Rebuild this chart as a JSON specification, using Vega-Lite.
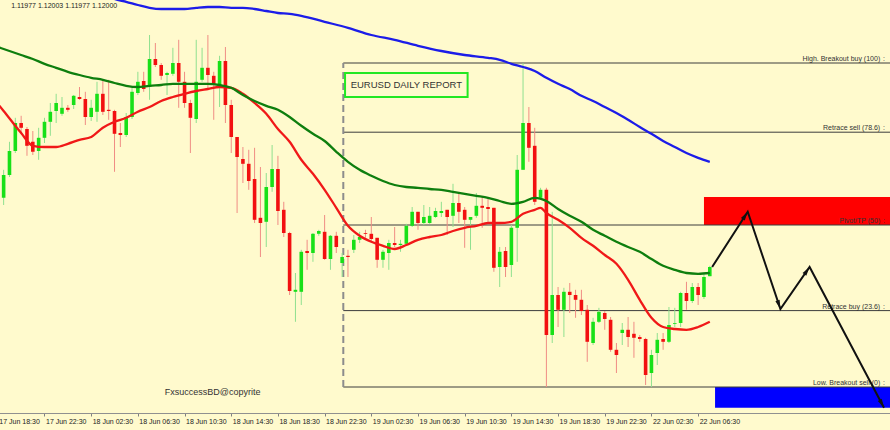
{
  "$schema": "https://vega.github.io/schema/vega-lite/v6.json",
  "width": 890,
  "height": 413,
  "padding": {"left": 0, "top": 0, "right": 0, "bottom": 17},
  "autosize": {"type": "none"},
  "background": "#FFFACD",
  "config": {"view": {"stroke": null}, "font": "Liberation Sans"},
  "resolve": {"scale": {"color": "independent"}},
  "datasets": {
    "candles": [
      {"i":1,"o":1.12173,"h":1.12243,"l":1.12155,"c":1.12230},
      {"i":2,"o":1.12230,"h":1.12313,"l":1.12225,"c":1.12290},
      {"i":3,"o":1.12290,"h":1.12373,"l":1.12285,"c":1.12360},
      {"i":4,"o":1.12360,"h":1.12378,"l":1.12335,"c":1.12348},
      {"i":5,"o":1.12345,"h":1.12350,"l":1.12278,"c":1.12303},
      {"i":6,"o":1.12313,"h":1.12340,"l":1.12280,"c":1.12288},
      {"i":7,"o":1.12290,"h":1.12348,"l":1.12268,"c":1.12323},
      {"i":8,"o":1.12323,"h":1.12373,"l":1.12310,"c":1.12363},
      {"i":9,"o":1.12363,"h":1.12410,"l":1.12328,"c":1.12388},
      {"i":10,"o":1.12390,"h":1.12433,"l":1.12360,"c":1.12410},
      {"i":11,"o":1.12383,"h":1.12425,"l":1.12378,"c":1.12398},
      {"i":12,"o":1.12398,"h":1.12405,"l":1.12388,"c":1.12393},
      {"i":13,"o":1.12405,"h":1.12430,"l":1.12395,"c":1.12428},
      {"i":14,"o":1.12425,"h":1.12450,"l":1.12418,"c":1.12420},
      {"i":15,"o":1.12420,"h":1.12438,"l":1.12355,"c":1.12375},
      {"i":16,"o":1.12375,"h":1.12418,"l":1.12365,"c":1.12398},
      {"i":17,"o":1.12388,"h":1.12463,"l":1.12363,"c":1.12433},
      {"i":18,"o":1.12433,"h":1.12468,"l":1.12380,"c":1.12388},
      {"i":19,"o":1.12393,"h":1.12468,"l":1.12368,"c":1.12390},
      {"i":20,"o":1.12390,"h":1.12393,"l":1.12238,"c":1.12333},
      {"i":21,"o":1.12335,"h":1.12360,"l":1.12300,"c":1.12330},
      {"i":22,"o":1.12330,"h":1.12385,"l":1.12325,"c":1.12375},
      {"i":23,"o":1.12375,"h":1.12450,"l":1.12370,"c":1.12438},
      {"i":24,"o":1.12435,"h":1.12488,"l":1.12430,"c":1.12463},
      {"i":25,"o":1.12465,"h":1.12488,"l":1.12438,"c":1.12445},
      {"i":26,"o":1.12450,"h":1.12580,"l":1.12418,"c":1.12520},
      {"i":27,"o":1.12520,"h":1.12560,"l":1.12500,"c":1.12505},
      {"i":28,"o":1.12505,"h":1.12510,"l":1.12468,"c":1.12478},
      {"i":29,"o":1.12480,"h":1.12488,"l":1.12430,"c":1.12485},
      {"i":30,"o":1.12483,"h":1.12548,"l":1.12478,"c":1.12510},
      {"i":31,"o":1.12510,"h":1.12568,"l":1.12398,"c":1.12463},
      {"i":32,"o":1.12463,"h":1.12488,"l":1.12398,"c":1.12410},
      {"i":33,"o":1.12410,"h":1.12418,"l":1.12285,"c":1.12373},
      {"i":34,"o":1.12370,"h":1.12568,"l":1.12360,"c":1.12463},
      {"i":35,"o":1.12468,"h":1.12548,"l":1.12463,"c":1.12498},
      {"i":36,"o":1.12498,"h":1.12580,"l":1.12443,"c":1.12480},
      {"i":37,"o":1.12478,"h":1.12488,"l":1.12368,"c":1.12455},
      {"i":38,"o":1.12455,"h":1.12528,"l":1.12400,"c":1.12515},
      {"i":39,"o":1.12515,"h":1.12550,"l":1.12360,"c":1.12405},
      {"i":40,"o":1.12405,"h":1.12418,"l":1.12285,"c":1.12325},
      {"i":41,"o":1.12325,"h":1.12325,"l":1.12135,"c":1.12275},
      {"i":42,"o":1.12270,"h":1.12300,"l":1.12210,"c":1.12258},
      {"i":43,"o":1.12258,"h":1.12293,"l":1.12193,"c":1.12215},
      {"i":44,"o":1.12220,"h":1.12298,"l":1.12110,"c":1.12118},
      {"i":45,"o":1.12123,"h":1.12250,"l":1.12025,"c":1.12110},
      {"i":46,"o":1.12113,"h":1.12235,"l":1.12050,"c":1.12200},
      {"i":47,"o":1.12200,"h":1.12305,"l":1.12188,"c":1.12245},
      {"i":48,"o":1.12245,"h":1.12278,"l":1.12105,"c":1.12140},
      {"i":49,"o":1.12143,"h":1.12163,"l":1.12075,"c":1.12085},
      {"i":50,"o":1.12085,"h":1.12088,"l":1.11930,"c":1.11940},
      {"i":51,"o":1.11938,"h":1.11985,"l":1.11863,"c":1.11943},
      {"i":52,"o":1.11938,"h":1.12043,"l":1.11905,"c":1.12038},
      {"i":53,"o":1.12040,"h":1.12068,"l":1.11993,"c":1.12035},
      {"i":54,"o":1.12035,"h":1.12085,"l":1.12013,"c":1.12083},
      {"i":55,"o":1.12083,"h":1.12093,"l":1.12078,"c":1.12090},
      {"i":56,"o":1.12088,"h":1.12130,"l":1.12018,"c":1.12020},
      {"i":57,"o":1.12020,"h":1.12080,"l":1.11993,"c":1.12078},
      {"i":58,"o":1.12078,"h":1.12088,"l":1.12035,"c":1.12050},
      {"i":59,"o":1.12010,"h":1.12035,"l":1.11975,"c":1.12025},
      {"i":60,"o":1.12028,"h":1.12043,"l":1.11975,"c":1.12025},
      {"i":61,"o":1.12043,"h":1.12080,"l":1.12035,"c":1.12068},
      {"i":62,"o":1.12068,"h":1.12088,"l":1.12060,"c":1.12075},
      {"i":63,"o":1.12085,"h":1.12093,"l":1.12073,"c":1.12083},
      {"i":64,"o":1.12083,"h":1.12125,"l":1.12063,"c":1.12070},
      {"i":65,"o":1.12073,"h":1.12073,"l":1.11998,"c":1.12018},
      {"i":66,"o":1.12018,"h":1.12043,"l":1.11998,"c":1.12038},
      {"i":67,"o":1.12035,"h":1.12068,"l":1.11993,"c":1.12060},
      {"i":68,"o":1.12060,"h":1.12100,"l":1.12050,"c":1.12055},
      {"i":69,"o":1.12055,"h":1.12068,"l":1.12038,"c":1.12058},
      {"i":70,"o":1.12058,"h":1.12108,"l":1.12053,"c":1.12103},
      {"i":71,"o":1.12103,"h":1.12150,"l":1.12100,"c":1.12138},
      {"i":72,"o":1.12138,"h":1.12138,"l":1.12093,"c":1.12110},
      {"i":73,"o":1.12110,"h":1.12155,"l":1.12105,"c":1.12125},
      {"i":74,"o":1.12110,"h":1.12150,"l":1.12108,"c":1.12128},
      {"i":75,"o":1.12125,"h":1.12148,"l":1.12123,"c":1.12140},
      {"i":76,"o":1.12135,"h":1.12163,"l":1.12125,"c":1.12140},
      {"i":77,"o":1.12143,"h":1.12143,"l":1.12080,"c":1.12125},
      {"i":78,"o":1.12128,"h":1.12208,"l":1.12100,"c":1.12160},
      {"i":79,"o":1.12160,"h":1.12185,"l":1.12110,"c":1.12138},
      {"i":80,"o":1.12143,"h":1.12150,"l":1.12048,"c":1.12118},
      {"i":81,"o":1.12118,"h":1.12125,"l":1.12043,"c":1.12125},
      {"i":82,"o":1.12128,"h":1.12185,"l":1.12123,"c":1.12153},
      {"i":83,"o":1.12153,"h":1.12175,"l":1.12098,"c":1.12148},
      {"i":84,"o":1.12150,"h":1.12175,"l":1.12113,"c":1.12145},
      {"i":85,"o":1.12148,"h":1.12148,"l":1.11988,"c":1.11998},
      {"i":86,"o":1.12000,"h":1.12050,"l":1.11950,"c":1.12038},
      {"i":87,"o":1.12040,"h":1.12050,"l":1.11975,"c":1.12000},
      {"i":88,"o":1.12005,"h":1.12105,"l":1.11975,"c":1.12098},
      {"i":89,"o":1.12098,"h":1.12280,"l":1.12013,"c":1.12243},
      {"i":90,"o":1.12243,"h":1.12510,"l":1.12243,"c":1.12360},
      {"i":91,"o":1.12360,"h":1.12400,"l":1.12263,"c":1.12298},
      {"i":92,"o":1.12303,"h":1.12348,"l":1.12155,"c":1.12163},
      {"i":93,"o":1.12173,"h":1.12198,"l":1.12168,"c":1.12193},
      {"i":94,"o":1.12193,"h":1.12198,"l":1.11700,"c":1.11830},
      {"i":95,"o":1.11830,"h":1.12138,"l":1.11810,"c":1.11930},
      {"i":96,"o":1.11930,"h":1.11950,"l":1.11850,"c":1.11893},
      {"i":97,"o":1.11893,"h":1.11948,"l":1.11825,"c":1.11938},
      {"i":98,"o":1.11938,"h":1.11960,"l":1.11885,"c":1.11930},
      {"i":99,"o":1.11930,"h":1.11943,"l":1.11873,"c":1.11918},
      {"i":100,"o":1.11918,"h":1.11943,"l":1.11880,"c":1.11890},
      {"i":101,"o":1.11893,"h":1.11905,"l":1.11763,"c":1.11813},
      {"i":102,"o":1.11810,"h":1.11873,"l":1.11805,"c":1.11863},
      {"i":103,"o":1.11863,"h":1.11898,"l":1.11860,"c":1.11888},
      {"i":104,"o":1.11885,"h":1.11890,"l":1.11843,"c":1.11870},
      {"i":105,"o":1.11868,"h":1.11875,"l":1.11788,"c":1.11793},
      {"i":106,"o":1.11793,"h":1.11810,"l":1.11735,"c":1.11780},
      {"i":107,"o":1.11835,"h":1.11860,"l":1.11805,"c":1.11843},
      {"i":108,"o":1.11843,"h":1.11875,"l":1.11800,"c":1.11825},
      {"i":109,"o":1.11833,"h":1.11863,"l":1.11773,"c":1.11823},
      {"i":110,"o":1.11825,"h":1.11830,"l":1.11813,"c":1.11820},
      {"i":111,"o":1.11820,"h":1.11823,"l":1.11705,"c":1.11730},
      {"i":112,"o":1.11735,"h":1.11793,"l":1.11700,"c":1.11780},
      {"i":113,"o":1.11785,"h":1.11835,"l":1.11755,"c":1.11818},
      {"i":114,"o":1.11820,"h":1.11835,"l":1.11793,"c":1.11813},
      {"i":115,"o":1.11813,"h":1.11900,"l":1.11810,"c":1.11855},
      {"i":116,"o":1.11858,"h":1.11898,"l":1.11850,"c":1.11860},
      {"i":117,"o":1.11860,"h":1.11938,"l":1.11850,"c":1.11935},
      {"i":118,"o":1.11935,"h":1.11963,"l":1.11893,"c":1.11915},
      {"i":119,"o":1.11915,"h":1.11960,"l":1.11910,"c":1.11950},
      {"i":120,"o":1.11950,"h":1.11960,"l":1.11905,"c":1.11930},
      {"i":121,"o":1.11925,"h":1.11985,"l":1.11920,"c":1.11975},
      {"i":122,"o":1.11977,"h":1.12003,"l":1.11977,"c":1.12000}
    ],
    "ma": [
      {"i":0,"ma":"fast","p":1.12408},{"i":1,"ma":"fast","p":1.12390},{"i":4,"ma":"fast","p":1.12335},{"i":6,"ma":"fast","p":1.12303},{"i":8,"ma":"fast","p":1.12300},{"i":10,"ma":"fast","p":1.12300},{"i":12,"ma":"fast","p":1.12308},{"i":14,"ma":"fast","p":1.12318},{"i":16,"ma":"fast","p":1.12325},{"i":18,"ma":"fast","p":1.12348},{"i":20,"ma":"fast","p":1.12363},{"i":22,"ma":"fast","p":1.12373},{"i":24,"ma":"fast","p":1.12388},{"i":26,"ma":"fast","p":1.12400},{"i":28,"ma":"fast","p":1.12415},{"i":30,"ma":"fast","p":1.12425},{"i":32,"ma":"fast","p":1.12433},{"i":34,"ma":"fast","p":1.12440},{"i":36,"ma":"fast","p":1.12445},{"i":38,"ma":"fast","p":1.12450},{"i":40,"ma":"fast","p":1.12448},{"i":42,"ma":"fast","p":1.12433},{"i":44,"ma":"fast","p":1.12410},{"i":46,"ma":"fast","p":1.12383},{"i":48,"ma":"fast","p":1.12345},{"i":50,"ma":"fast","p":1.12313},{"i":52,"ma":"fast","p":1.12268},{"i":54,"ma":"fast","p":1.12233},{"i":56,"ma":"fast","p":1.12193},{"i":58,"ma":"fast","p":1.12148},{"i":60,"ma":"fast","p":1.12103},{"i":62,"ma":"fast","p":1.12078},{"i":64,"ma":"fast","p":1.12063},{"i":66,"ma":"fast","p":1.12053},{"i":68,"ma":"fast","p":1.12045},{"i":70,"ma":"fast","p":1.12055},{"i":72,"ma":"fast","p":1.12068},{"i":74,"ma":"fast","p":1.12075},{"i":76,"ma":"fast","p":1.12080},{"i":78,"ma":"fast","p":1.12090},{"i":80,"ma":"fast","p":1.12098},{"i":82,"ma":"fast","p":1.12103},{"i":84,"ma":"fast","p":1.12110},{"i":86,"ma":"fast","p":1.12110},{"i":88,"ma":"fast","p":1.12113},{"i":90,"ma":"fast","p":1.12133},{"i":92,"ma":"fast","p":1.12143},{"i":93,"ma":"fast","p":1.12148},{"i":94,"ma":"fast","p":1.12135},{"i":96,"ma":"fast","p":1.12118},{"i":98,"ma":"fast","p":1.12098},{"i":100,"ma":"fast","p":1.12073},{"i":102,"ma":"fast","p":1.12053},{"i":104,"ma":"fast","p":1.12030},{"i":106,"ma":"fast","p":1.12008},{"i":108,"ma":"fast","p":1.11968},{"i":110,"ma":"fast","p":1.11918},{"i":112,"ma":"fast","p":1.11873},{"i":114,"ma":"fast","p":1.11850},{"i":116,"ma":"fast","p":1.11845},{"i":118,"ma":"fast","p":1.11843},{"i":120,"ma":"fast","p":1.11850},{"i":122,"ma":"fast","p":1.11863},
      {"i":0,"ma":"mid","p":1.12550},{"i":1,"ma":"mid","p":1.12545},{"i":4,"ma":"mid","p":1.12530},{"i":6,"ma":"mid","p":1.12520},{"i":8,"ma":"mid","p":1.12508},{"i":10,"ma":"mid","p":1.12498},{"i":12,"ma":"mid","p":1.12488},{"i":14,"ma":"mid","p":1.12480},{"i":16,"ma":"mid","p":1.12473},{"i":18,"ma":"mid","p":1.12468},{"i":20,"ma":"mid","p":1.12460},{"i":22,"ma":"mid","p":1.12453},{"i":24,"ma":"mid","p":1.12450},{"i":26,"ma":"mid","p":1.12453},{"i":28,"ma":"mid","p":1.12455},{"i":30,"ma":"mid","p":1.12458},{"i":32,"ma":"mid","p":1.12458},{"i":34,"ma":"mid","p":1.12458},{"i":36,"ma":"mid","p":1.12458},{"i":38,"ma":"mid","p":1.12455},{"i":40,"ma":"mid","p":1.12448},{"i":42,"ma":"mid","p":1.12430},{"i":44,"ma":"mid","p":1.12415},{"i":46,"ma":"mid","p":1.12403},{"i":48,"ma":"mid","p":1.12393},{"i":50,"ma":"mid","p":1.12375},{"i":52,"ma":"mid","p":1.12353},{"i":54,"ma":"mid","p":1.12333},{"i":56,"ma":"mid","p":1.12315},{"i":58,"ma":"mid","p":1.12288},{"i":60,"ma":"mid","p":1.12263},{"i":62,"ma":"mid","p":1.12243},{"i":64,"ma":"mid","p":1.12228},{"i":66,"ma":"mid","p":1.12215},{"i":68,"ma":"mid","p":1.12205},{"i":70,"ma":"mid","p":1.12200},{"i":72,"ma":"mid","p":1.12198},{"i":74,"ma":"mid","p":1.12195},{"i":76,"ma":"mid","p":1.12193},{"i":78,"ma":"mid","p":1.12188},{"i":80,"ma":"mid","p":1.12183},{"i":82,"ma":"mid","p":1.12178},{"i":84,"ma":"mid","p":1.12173},{"i":86,"ma":"mid","p":1.12165},{"i":88,"ma":"mid","p":1.12158},{"i":90,"ma":"mid","p":1.12163},{"i":92,"ma":"mid","p":1.12173},{"i":94,"ma":"mid","p":1.12165},{"i":96,"ma":"mid","p":1.12145},{"i":98,"ma":"mid","p":1.12128},{"i":100,"ma":"mid","p":1.12113},{"i":102,"ma":"mid","p":1.12093},{"i":104,"ma":"mid","p":1.12078},{"i":106,"ma":"mid","p":1.12063},{"i":108,"ma":"mid","p":1.12050},{"i":110,"ma":"mid","p":1.12038},{"i":112,"ma":"mid","p":1.12020},{"i":114,"ma":"mid","p":1.12003},{"i":116,"ma":"mid","p":1.11993},{"i":118,"ma":"mid","p":1.11985},{"i":120,"ma":"mid","p":1.11983},{"i":122,"ma":"mid","p":1.11985},
      {"i":18,"ma":"slow","p":1.12683},{"i":20,"ma":"slow","p":1.12670},{"i":22,"ma":"slow","p":1.12663},{"i":24,"ma":"slow","p":1.12655},{"i":26,"ma":"slow","p":1.12648},{"i":28,"ma":"slow","p":1.12645},{"i":30,"ma":"slow","p":1.12645},{"i":32,"ma":"slow","p":1.12645},{"i":34,"ma":"slow","p":1.12648},{"i":36,"ma":"slow","p":1.12650},{"i":38,"ma":"slow","p":1.12650},{"i":40,"ma":"slow","p":1.12648},{"i":42,"ma":"slow","p":1.12648},{"i":44,"ma":"slow","p":1.12645},{"i":46,"ma":"slow","p":1.12640},{"i":48,"ma":"slow","p":1.12635},{"i":50,"ma":"slow","p":1.12633},{"i":52,"ma":"slow","p":1.12628},{"i":56,"ma":"slow","p":1.12613},{"i":60,"ma":"slow","p":1.12598},{"i":64,"ma":"slow","p":1.12580},{"i":68,"ma":"slow","p":1.12568},{"i":72,"ma":"slow","p":1.12553},{"i":76,"ma":"slow","p":1.12540},{"i":80,"ma":"slow","p":1.12530},{"i":84,"ma":"slow","p":1.12523},{"i":86,"ma":"slow","p":1.12518},{"i":88,"ma":"slow","p":1.12508},{"i":90,"ma":"slow","p":1.12500},{"i":92,"ma":"slow","p":1.12490},{"i":94,"ma":"slow","p":1.12473},{"i":96,"ma":"slow","p":1.12458},{"i":98,"ma":"slow","p":1.12445},{"i":100,"ma":"slow","p":1.12428},{"i":102,"ma":"slow","p":1.12415},{"i":104,"ma":"slow","p":1.12400},{"i":106,"ma":"slow","p":1.12385},{"i":108,"ma":"slow","p":1.12368},{"i":110,"ma":"slow","p":1.12350},{"i":112,"ma":"slow","p":1.12333},{"i":114,"ma":"slow","p":1.12315},{"i":116,"ma":"slow","p":1.12300},{"i":118,"ma":"slow","p":1.12285},{"i":120,"ma":"slow","p":1.12273},{"i":122,"ma":"slow","p":1.12263}
    ],
    "fib": [
      {"level":"High. Breakout buy (100)","p":1.12510,"i0":59.2,"i1":153},
      {"level":"Retrace sell (78.6)","p":1.12337,"i0":59.2,"i1":153},
      {"level":"Pivot/TP (50)","p":1.12105,"i0":59.2,"i1":153},
      {"level":"Retrace buy (23.6)","p":1.11891,"i0":59.2,"i1":153},
      {"level":"Low. Breakout sell (0)","p":1.11700,"i0":59.2,"i1":153}
    ],
    "zones": [
      {"zone":"sell","i0":121.0,"i1":153,"lo":1.12105,"hi":1.12175},
      {"zone":"buy","i0":122.9,"i1":153,"lo":1.11648,"hi":1.11700}
    ],
    "path": [
      {"k":0,"i":122.4,"p":1.12000},
      {"k":1,"i":128.5,"p":1.12138},
      {"k":2,"i":134.1,"p":1.11895},
      {"k":3,"i":139.1,"p":1.12000},
      {"k":4,"i":151.85,"p":1.11648}
    ],
    "notes": [
      {"note":"ohlc","i":2.3,"p":1.12653,"text":"1.11977 1.12003 1.11977 1.12000"},
      {"note":"report","i":70.0,"p":1.12455,"text":"EURUSD DAILY REPORT"},
      {"note":"copy","i":36.8,"p":1.11688,"text":"FxsuccessBD@copyrite"}
    ],
    "box": [
      {"i0":59.5,"i1":80.5,"lo":1.12425,"hi":1.12485}
    ]
  },
  "layer": [
    {
      "data": {"name": "zones"},
      "mark": {"type": "rect", "clip": true},
      "encoding": {
        "x": {"field": "i0", "type": "quantitative", "title": null, "scale": {"domain": [0, 152.02], "range": [-7.2, 890], "nice": false, "zero": false},
          "axis": {"values": [0,8,16,24,32,40,48,56,64,72,80,88,96,104,112,120],
            "labelExpr": "['17 Jun 18:30','17 Jun 22:30','18 Jun 02:30','18 Jun 06:30','18 Jun 10:30','18 Jun 14:30','18 Jun 18:30','18 Jun 22:30','19 Jun 02:30','19 Jun 06:30','19 Jun 10:30','19 Jun 14:30','19 Jun 18:30','19 Jun 22:30','22 Jun 02:30','22 Jun 06:30'][round(datum.value/8)]",
            "labelAlign": "left", "labelBaseline": "top", "labelOffset": 1, "labelPadding": 1,
            "tickSize": 3, "tickColor": "#808080", "domainColor": "#909090",
            "labelFont": "Liberation Sans", "labelFontSize": 7, "labelColor": "#222222",
            "grid": false, "title": null, "labelOverlap": false, "labelBound": false, "labelFlush": false}},
        "x2": {"field": "i1"},
        "y": {"field": "lo", "type": "quantitative", "scale": {"domain": [1.11635, 1.126675], "nice": false, "zero": false}, "axis": null},
        "y2": {"field": "hi"},
        "color": {"field": "zone", "type": "nominal", "scale": {"domain": ["sell", "buy"], "range": ["#FF0000", "#0000FF"]}, "legend": null}
      }
    },
    {
      "mark": {"type": "rule", "color": "#A0A0A0", "strokeWidth": 1},
      "encoding": {"y": {"datum": 1.12, "type": "quantitative", "axis": null}}
    },
    {
      "data": {"name": "fib"},
      "mark": {"type": "rule", "color": "#3C3C3C", "strokeWidth": 1, "clip": true},
      "encoding": {
        "x": {"field": "i0", "type": "quantitative", "title": null},
        "x2": {"field": "i1"},
        "y": {"field": "p", "type": "quantitative", "axis": null}
      }
    },
    {
      "data": {"name": "fib"},
      "transform": [{"aggregate": [{"op": "min", "field": "p", "as": "lo"}, {"op": "max", "field": "p", "as": "hi"}, {"op": "min", "field": "i0", "as": "ix"}]}],
      "mark": {"type": "rule", "color": "#8C8C8C", "strokeWidth": 2, "strokeDash": [7, 4]},
      "encoding": {
        "x": {"field": "ix", "type": "quantitative", "title": null},
        "y": {"field": "lo", "type": "quantitative", "axis": null},
        "y2": {"field": "hi"}
      }
    },
    {
      "data": {"name": "candles"},
      "mark": {"type": "rule", "strokeWidth": 1, "clip": true},
      "encoding": {
        "x": {"field": "i", "type": "quantitative", "title": null},
        "y": {"field": "l", "type": "quantitative", "axis": null},
        "y2": {"field": "h"},
        "color": {"condition": {"test": "datum.c >= datum.o", "value": "#8FE08F"}, "value": "#F08C84"}
      }
    },
    {
      "data": {"name": "candles"},
      "mark": {"type": "bar", "size": 3.6, "clip": true},
      "encoding": {
        "x": {"field": "i", "type": "quantitative", "title": null},
        "y": {"field": "o", "type": "quantitative", "axis": null},
        "y2": {"field": "c"},
        "color": {"condition": {"test": "datum.c >= datum.o", "value": "#18E018"}, "value": "#F21010"}
      }
    },
    {
      "data": {"name": "ma"},
      "mark": {"type": "line", "strokeWidth": 2.3, "clip": true, "interpolate": "monotone"},
      "encoding": {
        "x": {"field": "i", "type": "quantitative", "title": null},
        "y": {"field": "p", "type": "quantitative", "axis": null},
        "color": {"field": "ma", "type": "nominal", "scale": {"domain": ["fast", "mid", "slow"], "range": ["#F01818", "#0E7E0E", "#1C1CE8"]}, "legend": null},
        "order": {"field": "i"}
      }
    },
    {
      "data": {"name": "fib"},
      "mark": {"type": "text", "align": "right", "baseline": "bottom", "dy": -1, "fontSize": 7, "font": "Liberation Sans", "color": "#333333"},
      "encoding": {
        "x": {"datum": 151.2, "type": "quantitative", "title": null},
        "y": {"field": "p", "type": "quantitative", "axis": null},
        "text": {"field": "level"}
      }
    },
    {
      "data": {"name": "fib"},
      "mark": {"type": "text", "align": "center", "baseline": "bottom", "dy": -1, "fontSize": 7, "font": "Liberation Sans", "color": "#333333", "text": ":"},
      "encoding": {
        "x": {"datum": 151.85, "type": "quantitative", "title": null},
        "y": {"field": "p", "type": "quantitative", "axis": null}
      }
    },
    {
      "data": {"name": "path"},
      "mark": {"type": "line", "color": "#111111", "strokeWidth": 2, "clip": true},
      "encoding": {
        "x": {"field": "i", "type": "quantitative", "title": null},
        "y": {"field": "p", "type": "quantitative", "axis": null},
        "order": {"field": "k"}
      }
    },
    {
      "data": {"name": "path"},
      "transform": [{"filter": "datum.k == 1"}],
      "mark": {"type": "point", "filled": true, "color": "#111111", "opacity": 1, "size": 100, "angle": 33, "shape": "M0,0 L0.45,1.8 L-0.45,1.8 Z"},
      "encoding": {"x": {"field": "i", "type": "quantitative", "title": null}, "y": {"field": "p", "type": "quantitative", "axis": null}}
    },
    {
      "data": {"name": "path"},
      "transform": [{"filter": "datum.k == 2"}],
      "mark": {"type": "point", "filled": true, "color": "#111111", "opacity": 1, "size": 100, "angle": 161, "shape": "M0,0 L0.45,1.8 L-0.45,1.8 Z"},
      "encoding": {"x": {"field": "i", "type": "quantitative", "title": null}, "y": {"field": "p", "type": "quantitative", "axis": null}}
    },
    {
      "data": {"name": "path"},
      "transform": [{"filter": "datum.k == 3"}],
      "mark": {"type": "point", "filled": true, "color": "#111111", "opacity": 1, "size": 100, "angle": 35, "shape": "M0,0 L0.45,1.8 L-0.45,1.8 Z"},
      "encoding": {"x": {"field": "i", "type": "quantitative", "title": null}, "y": {"field": "p", "type": "quantitative", "axis": null}}
    },
    {
      "data": {"name": "path"},
      "transform": [{"filter": "datum.k == 4"}],
      "mark": {"type": "point", "filled": true, "color": "#111111", "opacity": 1, "size": 100, "angle": 152, "shape": "M0,0 L0.45,1.8 L-0.45,1.8 Z"},
      "encoding": {"x": {"field": "i", "type": "quantitative", "title": null}, "y": {"field": "p", "type": "quantitative", "axis": null}}
    },
    {
      "data": {"name": "box"},
      "mark": {"type": "rect", "fill": null, "fillOpacity": 0, "stroke": "#22E822", "strokeWidth": 2},
      "encoding": {
        "x": {"field": "i0", "type": "quantitative", "title": null},
        "x2": {"field": "i1"},
        "y": {"field": "lo", "type": "quantitative", "axis": null},
        "y2": {"field": "hi"}
      }
    },
    {
      "data": {"name": "notes"},
      "transform": [{"filter": "datum.note == 'ohlc'"}],
      "mark": {"type": "text", "align": "left", "baseline": "middle", "fontSize": 7, "font": "Liberation Sans", "color": "#222222"},
      "encoding": {"x": {"field": "i", "type": "quantitative", "title": null}, "y": {"field": "p", "type": "quantitative", "axis": null}, "text": {"field": "text"}}
    },
    {
      "data": {"name": "notes"},
      "transform": [{"filter": "datum.note == 'report'"}],
      "mark": {"type": "text", "align": "center", "baseline": "middle", "fontSize": 9.5, "font": "Liberation Sans", "color": "#333333"},
      "encoding": {"x": {"field": "i", "type": "quantitative", "title": null}, "y": {"field": "p", "type": "quantitative", "axis": null}, "text": {"field": "text"}}
    },
    {
      "data": {"name": "notes"},
      "transform": [{"filter": "datum.note == 'copy'"}],
      "mark": {"type": "text", "align": "center", "baseline": "middle", "fontSize": 9, "font": "Liberation Sans", "color": "#333333"},
      "encoding": {"x": {"field": "i", "type": "quantitative", "title": null}, "y": {"field": "p", "type": "quantitative", "axis": null}, "text": {"field": "text"}}
    }
  ]
}
